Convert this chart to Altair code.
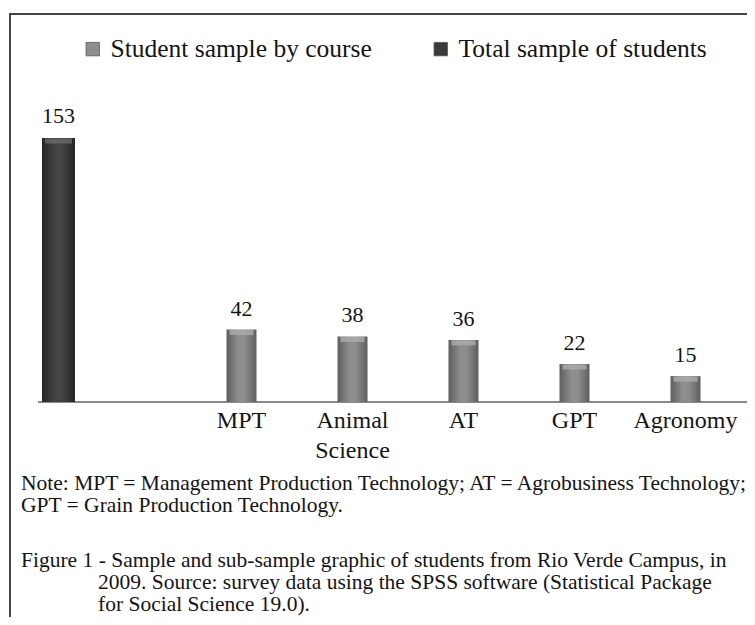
import altair as alt
import pandas as pd

# ---------------- data ----------------
courses = ["MPT", "Animal Science", "AT", "GPT", "Agronomy"]
course_labels = ["MPT", "Animal\nScience", "AT", "GPT", "Agronomy"]
course_values = [42, 38, 36, 22, 15]
total_names = ["All students"]
total_values = [153]
series_names = ["Student sample by course", "Total sample of students"]
series_colors = ["#8e8e8e", "#3a3a3a"]
note_lines = [
    "Note: MPT = Management Production Technology; AT = Agrobusiness Technology;",
    "GPT = Grain Production Technology.",
]
caption_lines = [
    "Figure 1 - Sample and sub-sample graphic of students from Rio Verde Campus, in",
    "2009. Source: survey data using the SPSS software (Statistical Package",
    "for Social Science 19.0).",
]

# ---------------- styling ----------------
W, H = 739, 609
FONT = "Liberation Serif"
INK = "#141414"

course_df = pd.DataFrame({"course": courses, "label": course_labels,
                          "value": course_values, "series": series_names[0]})
total_df = pd.DataFrame({"course": total_names, "value": total_values,
                         "series": series_names[1]})
legend_df = pd.DataFrame({"series": series_names})
base_df = pd.DataFrame({"v": [0]})

yscale = alt.Scale(domain=[0, 153], range=[394, 130], nice=False, zero=True)
Y = alt.Y("value:Q", scale=yscale, axis=None)

x_course = alt.X("course:N", sort=courses, axis=None,
                 scale=alt.Scale(domain=courses, range=[178, 733],
                                 paddingInner=0, paddingOuter=0))
x_total = alt.X("course:N", axis=None,
                scale=alt.Scale(domain=total_names, range=[0, 101],
                                paddingInner=0, paddingOuter=0))


def hgrad(edge, mid):
    return alt.Gradient(
        gradient="linear", x1=0, x2=1, y1=0, y2=0,
        stops=[alt.GradientStop(offset=0, color=edge),
               alt.GradientStop(offset=0.4, color=mid),
               alt.GradientStop(offset=0.6, color=mid),
               alt.GradientStop(offset=1, color=edge)])


border = alt.Chart(base_df).mark_rect(
    filled=False, stroke="#454545", strokeWidth=2
).encode(x=alt.value(2), x2=alt.value(W + 30), y=alt.value(6), y2=alt.value(H + 30))

baseline = alt.Chart(base_df).mark_rule(color="#8a8a8a", strokeWidth=2).encode(
    x=alt.value(30), x2=alt.value(W),
    y=alt.Y("v:Q", scale=yscale, axis=None))

course_bars = alt.Chart(course_df).mark_bar(
    width=30, color=hgrad("#5e5e5e", "#8e8e8e")
).encode(x=x_course, y=Y)

course_caps = alt.Chart(course_df).mark_tick(
    size=24, thickness=5, yOffset=3, color="#adadad", opacity=0.8
).encode(x=x_course, y=Y)

total_bars = alt.Chart(total_df).mark_bar(
    width=33, color=hgrad("#262626", "#444444")
).encode(x=x_total, y=Y)

total_caps = alt.Chart(total_df).mark_tick(
    size=27, thickness=5, yOffset=3, color="#6a6a6a", opacity=0.8
).encode(x=x_total, y=Y)

course_vals = alt.Chart(course_df).mark_text(
    baseline="alphabetic", dy=-14, font=FONT, fontSize=22, color=INK
).encode(x=x_course, y=Y, text="value:Q")

total_vals = alt.Chart(total_df).mark_text(
    baseline="alphabetic", dy=-15, font=FONT, fontSize=22, color=INK
).encode(x=x_total, y=Y, text="value:Q")

course_names = alt.Chart(course_df).mark_text(
    baseline="alphabetic", dy=26, font=FONT, fontSize=24, color=INK,
    lineBreak="\n", lineHeight=30
).encode(x=x_course, y=alt.Y("v0:Q", scale=yscale, axis=None), text="label:N"
).transform_calculate(v0="0")

legend_layer = alt.Chart(legend_df).mark_square(opacity=0).encode(
    color=alt.Color(
        "series:N", sort=series_names,
        scale=alt.Scale(domain=series_names, range=series_colors),
        legend=alt.Legend(
            title=None, orient="none", legendX=72, legendY=28,
            direction="horizontal", labelFont=FONT, labelFontSize=25.5,
            labelColor=INK, symbolType="square", symbolSize=180,
            symbolOpacity=1, symbolStrokeWidth=0.8, symbolStrokeColor="#555555",
            labelOffset=5, columnPadding=56, labelLimit=400)))

FS = 21.5
text_layers = []
note_y = [482, 504]
for line, yy in zip(note_lines, note_y):
    text_layers.append(
        alt.Chart(pd.DataFrame({"t": [line]})).mark_text(
            align="left", baseline="alphabetic", font=FONT, fontSize=FS, color=INK
        ).encode(x=alt.value(13), y=alt.value(yy), text="t:N"))
cap_y = [559, 581, 603]
cap_x = [13, 90, 90]
for line, yy, xx in zip(caption_lines, cap_y, cap_x):
    text_layers.append(
        alt.Chart(pd.DataFrame({"t": [line]})).mark_text(
            align="left", baseline="alphabetic", font=FONT, fontSize=FS, color=INK
        ).encode(x=alt.value(xx), y=alt.value(yy), text="t:N"))

chart = alt.layer(
    border, baseline, total_bars, total_caps, course_bars, course_caps,
    total_vals, course_vals, course_names, legend_layer, *text_layers
).resolve_scale(x="independent").properties(
    width=W, height=H, padding=0,
    autosize=alt.AutoSizeParams(type="none"),
    background="white",
).configure_view(stroke=None)

chart.save("out.html", embed_options={"renderer": "svg", "actions": False})
